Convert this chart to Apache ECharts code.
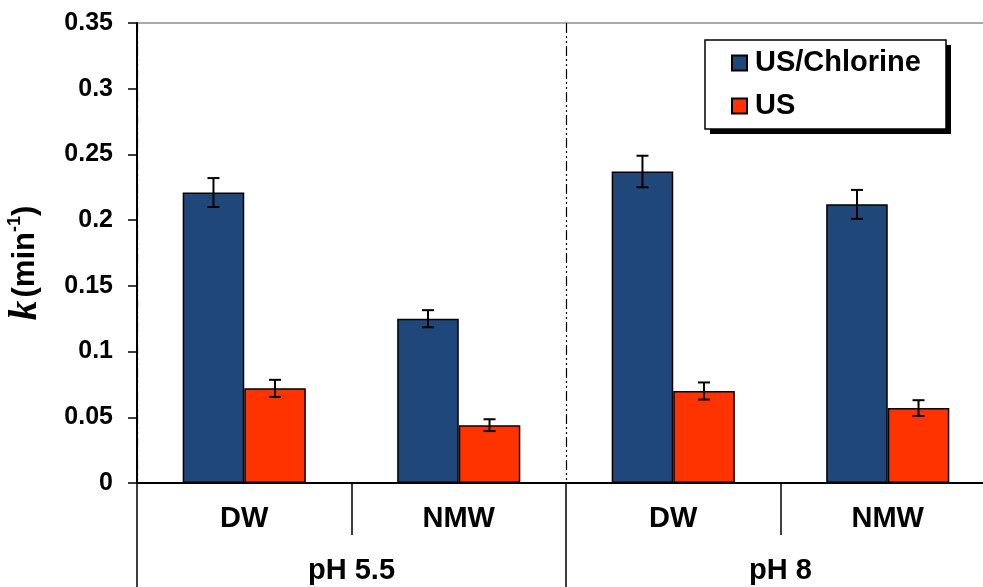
<!DOCTYPE html>
<html>
<head>
<meta charset="utf-8">
<script src="https://cdn.jsdelivr.net/npm/echarts@6/dist/echarts.min.js"></script>
<style>
  html, body { margin: 0; padding: 0; background: #fff; }
  #chart { width: 983px; height: 587px; }
</style>
</head>
<body>
<div id="chart"></div>
<script>
// Rate constants k (min^-1) for each water matrix at two pH values
const categories = ['DW', 'NMW', 'DW', 'NMW'];
const groups = ['pH 5.5', 'pH 8'];
const seriesNames = ['US/Chlorine', 'US'];
const usChlorine = [0.221, 0.125, 0.237, 0.212];
const usChlorineErr = [0.011, 0.0065, 0.012, 0.011];
const usOnly = [0.072, 0.044, 0.070, 0.057];
const usOnlyErr = [0.0065, 0.0045, 0.0065, 0.006];
const yTicks = { min: 0, max: 0.35, step: 0.05 };

const BLUE = '#1F477A';
const RED = '#FF3300';
const GAP = 0.426; // barCategoryGap fraction

function errorBars(values, errs, side) {
  return {
    type: 'custom',
    z: 5,
    silent: true,
    data: values.map((v, i) => [i, v, errs[i]]),
    renderItem: function (params, api) {
      const i = api.value(0), v = api.value(1), e = api.value(2);
      const band = api.size([1, 0])[0];
      const barW = band * (1 - GAP) / 2;
      const cx = api.coord([i, v])[0] + side * barW / 2;
      const yTop = api.coord([i, v + e])[1];
      const yBot = api.coord([i, v - e])[1];
      const cap = 6;
      const style = { stroke: '#000', lineWidth: 2 };
      return {
        type: 'group',
        children: [
          { type: 'line', shape: { x1: cx, y1: yTop, x2: cx, y2: yBot }, style },
          { type: 'line', shape: { x1: cx - cap, y1: yTop, x2: cx + cap, y2: yTop }, style },
          { type: 'line', shape: { x1: cx - cap, y1: yBot, x2: cx + cap, y2: yBot }, style }
        ]
      };
    }
  };
}

const chart = echarts.init(document.getElementById('chart'));
chart.setOption({
  animation: false,
  backgroundColor: '#fff',
  textStyle: { fontFamily: 'Liberation Sans, Arial, sans-serif' },
  grid: {
    left: 137, top: 23, width: 858, bottom: 104,
    outerBoundsMode: 'none',
    containLabel: false,
    show: true, borderColor: '#555', borderWidth: 1, backgroundColor: 'transparent'
  },
  // legend frame with a hard drop shadow
  graphic: [
    { type: 'rect', z: 50, silent: true, shape: { x: 710, y: 45, width: 241, height: 89 }, style: { fill: '#000' } },
    { type: 'rect', z: 51, silent: true, shape: { x: 705, y: 40, width: 241, height: 89 }, style: { fill: '#fff', stroke: '#000', lineWidth: 1.5 } }
  ],
  legend: {
    data: seriesNames,
    orient: 'vertical',
    left: 705, top: 41,
    z: 60,
    padding: [7, 20, 9, 26],
    itemGap: 13,
    itemWidth: 15, itemHeight: 15,
    icon: 'rect',
    textStyle: { fontSize: 29, fontWeight: 'bold', color: '#000', lineHeight: 30, padding: [0, 0, 0, 3] }
  },
  xAxis: [
    {
      type: 'category',
      data: categories,
      position: 'bottom',
      axisLine: { lineStyle: { color: '#000', width: 2 } },
      axisTick: { show: true, length: 52, lineStyle: { color: '#000', width: 1.5 } },
      axisLabel: { fontSize: 29, fontWeight: 'bold', color: '#000', margin: 21 },
      splitLine: { show: false }
    },
    {
      type: 'category',
      data: groups,
      position: 'bottom',
      axisLine: { show: false },
      axisTick: { show: true, length: 104, lineStyle: { color: '#000', width: 1.5 } },
      axisLabel: { fontSize: 29, fontWeight: 'bold', color: '#000', margin: 73 },
      splitLine: {
        show: true,
        lineStyle: { color: '#000', width: 1.2, type: [10, 3, 2, 3, 2, 3] }
      }
    }
  ],
  yAxis: {
    type: 'value',
    min: yTicks.min, max: yTicks.max, interval: yTicks.step,
    axisLine: { show: true, lineStyle: { color: '#000', width: 2 } },
    axisTick: { show: true, length: 9, lineStyle: { color: '#000', width: 1.5 } },
    axisLabel: { fontSize: 25, fontWeight: 'bold', color: '#000', margin: 24 },
    splitLine: { show: false },
    name: '{k|k} {p|(min}{s|-1}{p|)}',
    nameLocation: 'middle',
    nameGap: 92,
    nameTextStyle: {
      padding: [0, 20, 0, 0],
      rich: {
        k: { fontFamily: 'Liberation Serif, Times New Roman, serif', fontStyle: 'italic', fontWeight: 'bold', fontSize: 39, color: '#000' },
        p: { fontSize: 31, fontWeight: 'bold', color: '#000' },
        s: { fontSize: 18, fontWeight: 'bold', color: '#000', verticalAlign: 'top', padding: [0, 0, 14, 0] }
      }
    }
  },
  series: [
    {
      name: seriesNames[0], type: 'bar', data: usChlorine,
      barGap: '0%', barCategoryGap: (GAP * 100) + '%',
      itemStyle: { color: BLUE, borderColor: '#000', borderWidth: 1.5 }
    },
    {
      name: seriesNames[1], type: 'bar', data: usOnly,
      barGap: '0%', barCategoryGap: (GAP * 100) + '%',
      itemStyle: { color: RED, borderColor: '#000', borderWidth: 1.5 }
    },
    errorBars(usChlorine, usChlorineErr, -1),
    errorBars(usOnly, usOnlyErr, 1)
  ]
});
</script>
</body>
</html>
